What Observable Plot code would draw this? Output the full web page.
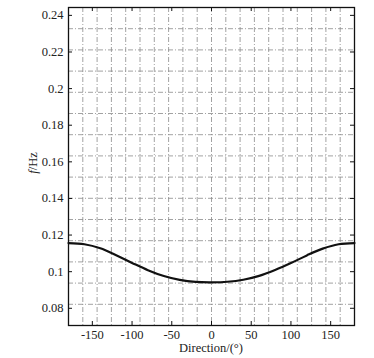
<!DOCTYPE html>
<html>
<head>
<meta charset="utf-8">
<script src="https://cdn.jsdelivr.net/npm/d3@7"></script>
<script src="https://cdn.jsdelivr.net/npm/@observablehq/plot@0.6"></script>
<style>
  html, body { margin: 0; padding: 0; background: #fff; }
  #chart { width: 374px; height: 358px; }
</style>
</head>
<body>
<div id="chart"></div>
<script>
// Data
const directions = [-180, -160, -140, -120, -100, -80, -60, -40, -20, 0, 20, 40, 60, 80, 100, 120, 140, 160, 180];
const freqs = [0.1156, 0.1150, 0.1128, 0.1090, 0.1048, 0.1008, 0.0976, 0.0955, 0.0944, 0.0942, 0.0945, 0.0956, 0.0977, 0.1009, 0.1047, 0.1089, 0.1126, 0.1150, 0.1156];

const xTicks = [-150, -100, -50, 0, 50, 100, 150];
const yTicks = [0.08, 0.10, 0.12, 0.14, 0.16, 0.18, 0.20, 0.22, 0.24];
const xDomain = [-180, 180];
const yDomain = [0.0706, 0.2443];
const xDivisions = 20;
const yDivisions = 15;

const data = directions.map((d, i) => ({dir: d, f: freqs[i]}));

const W = 374, H = 358;
const mL = 68, mR = 20, mT = 7, mB = 33;
const frameW = W - mL - mR, frameH = H - mT - mB;
const tickLen = 4;

const xGrid = d3.range(1, xDivisions).map(k => xDomain[0] + k * (xDomain[1] - xDomain[0]) / xDivisions);
const yGrid = d3.range(1, yDivisions).map(k => yDomain[0] + k * (yDomain[1] - yDomain[0]) / yDivisions);

const gridStyle = {stroke: "#8a8a8a", strokeWidth: 0.8, strokeDasharray: "5,2,1,2"};
const fmtY = d => String(+d.toFixed(2));

const chart = Plot.plot({
  width: W,
  height: H,
  marginLeft: mL,
  marginRight: mR,
  marginTop: mT,
  marginBottom: mB,
  style: {fontFamily: "'Liberation Serif', 'Times New Roman', serif", fontSize: "12.5px", color: "#222", background: "#fff"},
  x: {domain: xDomain, label: null},
  y: {domain: yDomain, label: null},
  marks: [
    Plot.ruleX(xGrid, gridStyle),
    Plot.ruleY(yGrid, gridStyle),
    Plot.line(data, {x: "dir", y: "f", stroke: "#111", strokeWidth: 2.2, curve: "catmull-rom"}),
    // inward ticks: bottom, top, left, right
    Plot.tickX(xTicks, {x: d => d, insetTop: frameH - tickLen, stroke: "#111", strokeWidth: 1}),
    Plot.tickX(xTicks, {x: d => d, insetBottom: frameH - tickLen, stroke: "#111", strokeWidth: 1}),
    Plot.tickY(yTicks, {y: d => d, insetRight: frameW - tickLen, stroke: "#111", strokeWidth: 1}),
    Plot.tickY(yTicks, {y: d => d, insetLeft: frameW - tickLen, stroke: "#111", strokeWidth: 1}),
    Plot.axisX(xTicks, {anchor: "bottom", tickSize: 0, tickPadding: 5, tickFormat: d => String(d), label: null}),
    Plot.axisY(yTicks, {anchor: "left", tickSize: 0, tickPadding: 5, tickFormat: fmtY, label: null}),
    Plot.frame({stroke: "#111", strokeWidth: 1.3})
  ]
});

const svg = d3.select(chart);
svg.append("text")
  .attr("x", mL + frameW / 2)
  .attr("y", 352)
  .attr("text-anchor", "middle")
  .attr("fill", "#222")
  .text("Direction/(°)");

const yl = svg.append("text")
  .attr("transform", "translate(37,163) rotate(-90)")
  .attr("text-anchor", "middle")
  .attr("fill", "#222");
yl.append("tspan").attr("font-style", "italic").text("f");
yl.append("tspan").text("/Hz");

document.getElementById("chart").appendChild(chart);
</script>
</body>
</html>
